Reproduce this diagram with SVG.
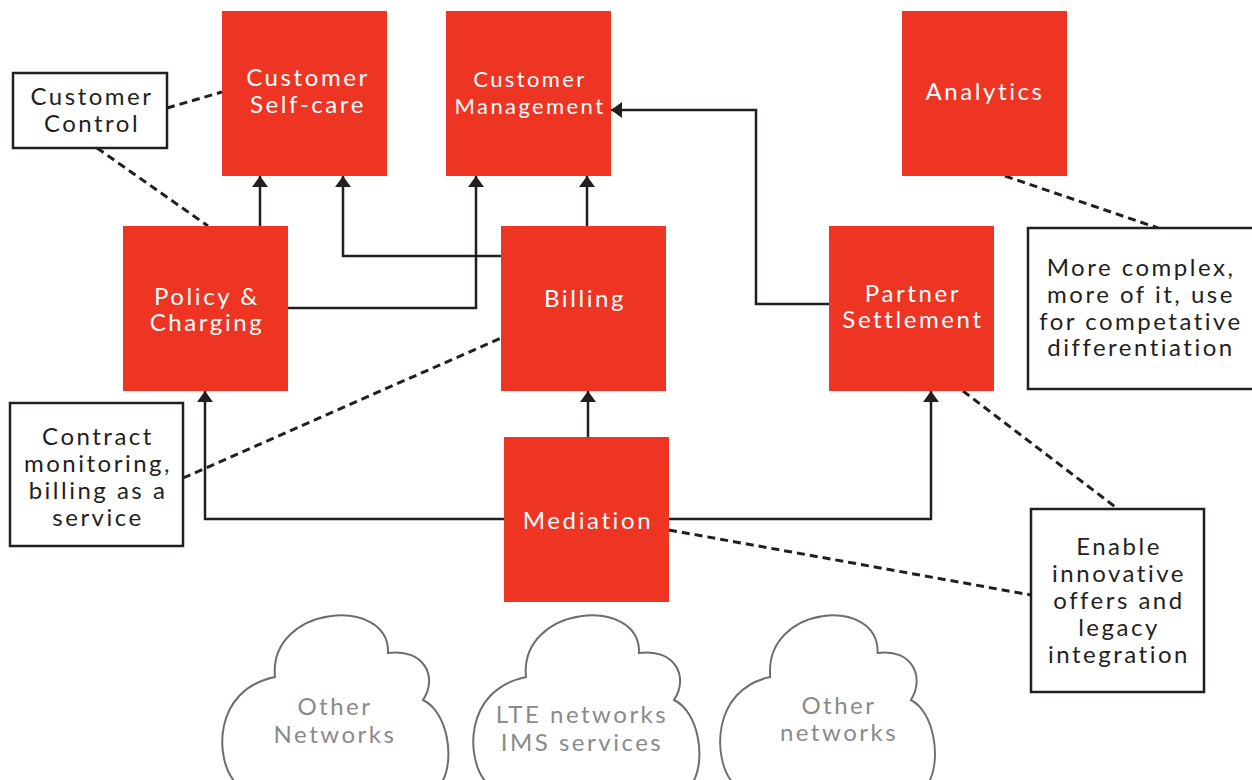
<svg xmlns="http://www.w3.org/2000/svg" width="1252" height="780" viewBox="0 0 1252 780">
  <style>
    .box { fill: #ee3524; }
    .note { fill: #ffffff; stroke: #231f20; stroke-width: 2.5; }
    .lbl { font-family: Lato, "Liberation Sans", sans-serif; font-size: 24px; letter-spacing: 2.6px; fill: #ffffff; text-anchor: middle; }
    .lbl.small { font-size: 22px; letter-spacing: 2.4px; }
    .ntxt { font-family: Lato, "Liberation Sans", sans-serif; font-size: 24px; letter-spacing: 2.5px; fill: #231f20; text-anchor: middle; }
    .ctxt { font-family: Lato, "Liberation Sans", sans-serif; font-size: 24px; letter-spacing: 2.5px; fill: #8a8a8a; text-anchor: middle; }
    .flow { fill: none; stroke: #231f20; stroke-width: 2.5; marker-end: url(#arrow); }
    .dash { fill: none; stroke: #231f20; stroke-width: 3; stroke-dasharray: 8 5; }
    .cloud { fill: #ffffff; stroke: #6d6d6d; stroke-width: 2; vector-effect: non-scaling-stroke; }
  </style>
  <defs>
    <marker id="arrow" viewBox="0 0 11 16" refX="11" refY="8" markerWidth="11" markerHeight="16" markerUnits="userSpaceOnUse" orient="auto">
      <path d="M0,0 L11,8 L0,16 z" fill="#231f20"/>
    </marker>
    <path id="cloudShape" d="M 235 782 C 215 760, 212 690, 275 677 C 268 605, 390 595, 388 653 C 425 648, 438 678, 423 700 C 448 712, 455 760, 442 782"/>
  </defs>

  <rect width="1252" height="780" fill="#ffffff"/>

  <!-- solid flows with arrowheads -->
  <g id="connectors">
    <path class="flow" d="M260 226 V176"/>
    <path class="flow" d="M501 256 H343 V176"/>
    <path class="flow" d="M288 308 H476 V176"/>
    <path class="flow" d="M587 226 V176"/>
    <path class="flow" d="M830 304 H756 V110 H611"/>
    <path class="flow" d="M588 437 V391"/>
    <path class="flow" d="M504 519 H205 V391"/>
    <path class="flow" d="M669 519 H931 V391"/>
    <!-- dashed annotation leaders -->
    <path class="dash" d="M167 108 L222 92"/>
    <path class="dash" d="M97 148 L208 226"/>
    <path class="dash" d="M183 478 L501 338"/>
    <path class="dash" d="M1005 176 L1158 228"/>
    <path class="dash" d="M963 391 L1118 509"/>
    <path class="dash" d="M669 530 L1031 595"/>
  </g>

  <!-- functional blocks -->
  <g id="self-care">
    <rect class="box" x="222" y="11" width="165" height="165"/>
    <text class="lbl" x="308" y="86">Customer</text>
    <text class="lbl" x="308" y="113">Self-care</text>
  </g>
  <g id="customer-management">
    <rect class="box" x="446" y="11" width="165" height="165"/>
    <text class="lbl small" x="530" y="87">Customer</text>
    <text class="lbl small" x="530" y="114">Management</text>
  </g>
  <g id="analytics">
    <rect class="box" x="902" y="11" width="165" height="165"/>
    <text class="lbl" x="985" y="100">Analytics</text>
  </g>
  <g id="policy-charging">
    <rect class="box" x="123" y="226" width="165" height="165"/>
    <text class="lbl" x="207" y="305">Policy &amp;</text>
    <text class="lbl" x="207" y="331">Charging</text>
  </g>
  <g id="billing">
    <rect class="box" x="501" y="226" width="165" height="165"/>
    <text class="lbl" x="585" y="307">Billing</text>
  </g>
  <g id="partner-settlement">
    <rect class="box" x="829" y="226" width="165" height="165"/>
    <text class="lbl" x="913" y="302">Partner</text>
    <text class="lbl" x="913" y="328">Settlement</text>
  </g>
  <g id="mediation">
    <rect class="box" x="504" y="437" width="165" height="165"/>
    <text class="lbl" x="588" y="529">Mediation</text>
  </g>

  <!-- annotation boxes -->
  <g id="customer-control">
    <rect class="note" x="13" y="73" width="154" height="75"/>
    <text class="ntxt" x="92" y="105">Customer</text>
    <text class="ntxt" x="92" y="132">Control</text>
  </g>
  <g id="contract-monitoring">
    <rect class="note" x="10" y="403" width="173" height="143"/>
    <text class="ntxt" x="98" y="445">Contract</text>
    <text class="ntxt" x="98" y="472">monitoring,</text>
    <text class="ntxt" x="98" y="499">billing as a</text>
    <text class="ntxt" x="98" y="526">service</text>
  </g>
  <g id="analytics-note">
    <rect class="note" x="1028" y="228" width="226" height="161"/>
    <text class="ntxt" x="1141" y="276">More complex,</text>
    <text class="ntxt" x="1141" y="303">more of it, use</text>
    <text class="ntxt" x="1141" y="330">for competative</text>
    <text class="ntxt" x="1141" y="356">differentiation</text>
  </g>
  <g id="innovation-note">
    <rect class="note" x="1031" y="509" width="173" height="183"/>
    <text class="ntxt" x="1119" y="555">Enable</text>
    <text class="ntxt" x="1119" y="582">innovative</text>
    <text class="ntxt" x="1119" y="609">offers and</text>
    <text class="ntxt" x="1119" y="636">legacy</text>
    <text class="ntxt" x="1119" y="663">integration</text>
  </g>

  <!-- networks -->
  <g id="cloud-other-left">
    <use href="#cloudShape" class="cloud"/>
    <text class="ctxt" x="335" y="715">Other</text>
    <text class="ctxt" x="335" y="743">Networks</text>
  </g>
  <g id="cloud-lte">
    <use href="#cloudShape" class="cloud" transform="translate(251,0)"/>
    <text class="ctxt" x="582" y="723">LTE networks</text>
    <text class="ctxt" x="582" y="751">IMS services</text>
  </g>
  <g id="cloud-other-right">
    <use href="#cloudShape" class="cloud" transform="translate(509,0) scale(0.95,1)"/>
    <text class="ctxt" x="839" y="714">Other</text>
    <text class="ctxt" x="839" y="741">networks</text>
  </g>
</svg>
